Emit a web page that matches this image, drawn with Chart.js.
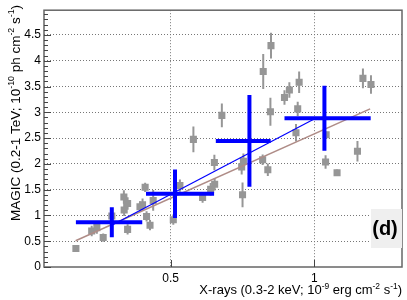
<!DOCTYPE html>
<html>
<head>
<meta charset="utf-8">
<script src="https://cdn.jsdelivr.net/npm/chart.js@4.4.1/dist/chart.umd.min.js"></script>
<style>
  html, body { margin: 0; padding: 0; background: #fff; }
  #wrap { width: 407px; height: 300px; position: relative; }
</style>
</head>
<body>
<div id="wrap"><canvas id="chart"></canvas></div>
<script>
// nightly fluxes: X-rays (x) vs MAGIC (y)
const xrayFlux = [0.170, 0.225, 0.243, 0.265, 0.295, 0.337, 0.350, 0.338, 0.350, 0.393,
                  0.411, 0.402, 0.416, 0.428, 0.439, 0.509, 0.532, 0.579, 0.611, 0.639,
                  0.653, 0.652, 0.678, 0.747, 0.753, 0.750, 0.820, 0.838, 0.822, 0.849,
                  0.847, 0.896, 0.913, 0.947, 0.942, 0.936, 1.041, 1.039, 1.079, 1.150,
                  1.169, 1.197];
const magicFlux = [0.358, 0.698, 0.764, 0.571, 0.990, 1.357, 1.231, 1.107, 0.730, 1.169,
                   1.546, 1.207, 0.980, 0.811, 1.291, 0.918, 1.578, 2.475, 1.348, 1.508,
                   1.603, 2.027, 2.941, 1.942, 2.049, 1.401, 2.080, 1.885, 3.790, 4.293,
                   3.011, 3.286, 3.431, 3.582, 3.067, 2.602, 2.564, 2.036, 1.829, 2.244,
                   3.658, 3.539];
const magicErr = [0.05, 0.10, 0.12, 0.08, 0.08, 0.13, 0.12, 0.12, 0.10, 0.10,
                  0.09, 0.12, 0.10, 0.10, 0.20, 0.10, 0.12, 0.25, 0.10, 0.12,
                  0.12, 0.15, 0.23, 0.15, 0.15, 0.24, 0.10, 0.12, 0.34, 0.25,
                  0.27, 0.14, 0.15, 0.21, 0.14, 0.17, 0.06, 0.13, 0.06, 0.20,
                  0.19, 0.18];

// binned averages (blue crosses)
const binX = [0.295, 0.515, 0.774, 1.035];
const binXLo = [0.170, 0.414, 0.657, 0.896];
const binXHi = [0.401, 0.651, 0.848, 1.196];
const binY = [0.867, 1.420, 2.445, 2.885];
const binYErr = [0.29, 0.47, 0.89, 0.63];

// linear fits
const fitBinX = [0.295, 1.006];
const fitBinY = [0.81, 2.89];
const fitAllX = [0.169, 1.194];
const fitAllY = [0.509, 3.067];

const xTicks = [0.5, 1];
const yTicks = [0, 0.5, 1, 1.5, 2, 2.5, 3, 3.5, 4, 4.5];
const yMinorStep = 0.1;

const FONT = "'Liberation Sans', Arial, sans-serif";
const GRAY = 'rgb(150,150,150)';

function isMajor(v) {
    return yTicks.some(m => Math.abs(m - v) < 1e-6);
}

// segments separated by null points so one dataset can hold many bars
const errSegs = [];
xrayFlux.forEach((x, i) => {
    errSegs.push({ x: x, y: magicFlux[i] - magicErr[i] });
    errSegs.push({ x: x, y: magicFlux[i] + magicErr[i] });
    errSegs.push({ x: x, y: null });
});
const crossSegs = [];
binX.forEach((x, i) => {
    crossSegs.push({ x: binXLo[i], y: binY[i] }, { x: binXHi[i], y: binY[i] }, { x: x, y: null });
    crossSegs.push({ x: x, y: binY[i] - binYErr[i] }, { x: x, y: binY[i] + binYErr[i] }, { x: x, y: null });
});

function drawRich(ctx, parts, size) {
    // parts: [text, isSup]; returns total width when ctx is null-ish
    let w = 0;
    parts.forEach(p => {
        ctx.font = (p[1] ? size * 0.65 : size) + 'px ' + FONT;
        w += ctx.measureText(p[0]).width;
    });
    return w;
}
function fillRich(ctx, parts, size, x, y) {
    parts.forEach(p => {
        ctx.font = (p[1] ? size * 0.65 : size) + 'px ' + FONT;
        ctx.fillText(p[0], x, p[1] ? y - size * 0.42 : y);
        x += ctx.measureText(p[0]).width;
    });
}

const xTitle = [['X-rays (0.3-2 keV; 10', 0], ['-9', 1], [' erg cm', 0], ['-2', 1], [' s', 0], ['-1', 1], [')', 0]];
const yTitle = [['MAGIC (0.2-1 TeV; 10', 0], ['-10', 1], [' ph cm', 0], ['-2', 1], [' s', 0], ['-1', 1], [')', 0]];

const decor = {
    id: 'decor',
    afterDraw(chart) {
        const ctx = chart.ctx;
        const a = chart.chartArea;
        const xs = chart.scales.x, ys = chart.scales.y;
        ctx.save();
        // frame
        ctx.strokeStyle = '#666';
        ctx.lineWidth = 1.5;
        ctx.strokeRect(a.left, a.top, a.right - a.left, a.bottom - a.top);
        // inward ticks
        ctx.strokeStyle = '#444';
        ctx.lineWidth = 1;
        ctx.beginPath();
        ys.ticks.forEach(t => {
            const py = Math.round(ys.getPixelForValue(t.value)) + 0.5;
            const len = isMajor(t.value) ? 7 : 4;
            ctx.moveTo(a.left, py);
            ctx.lineTo(a.left + len, py);
        });
        xs.ticks.forEach(t => {
            const px = Math.round(xs.getPixelForValue(t.value)) + 0.5;
            ctx.moveTo(px, a.bottom);
            ctx.lineTo(px, a.bottom - 7);
        });
        ctx.stroke();
        // axis titles
        ctx.fillStyle = '#000';
        ctx.textBaseline = 'alphabetic';
        ctx.textAlign = 'left';
        const xw = drawRich(ctx, xTitle, 13);
        fillRich(ctx, xTitle, 13, a.right - xw, 294);
        const yw = drawRich(ctx, yTitle, 13.5);
        ctx.translate(19.5, 5);
        ctx.rotate(-Math.PI / 2);
        fillRich(ctx, yTitle, 13.5, -yw, 0);
        ctx.restore();
        // panel tag
        ctx.save();
        ctx.fillStyle = '#efefef';
        ctx.fillRect(371, 209, a.right - 371, 39);
        ctx.fillStyle = '#000';
        ctx.font = 'bold 20px ' + FONT;
        ctx.textAlign = 'center';
        ctx.textBaseline = 'middle';
        ctx.fillText('(d)', 385, 229);
        ctx.restore();
    }
};

new Chart(document.getElementById('chart'), {
    type: 'scatter',
    data: {
        datasets: [
            {
                data: crossSegs, showLine: true, spanGaps: false, pointRadius: 0,
                borderColor: '#0000ff', borderWidth: 4, borderCapStyle: 'butt', order: 0
            },
            {
                data: fitBinX.map((x, i) => ({ x: x, y: fitBinY[i] })), showLine: true, pointRadius: 0,
                borderColor: '#0000ff', borderWidth: 1.2, order: 1
            },
            {
                data: fitAllX.map((x, i) => ({ x: x, y: fitAllY[i] })), showLine: true, pointRadius: 0,
                borderColor: 'rgb(175,140,135)', borderWidth: 1.5, order: 2
            },
            {
                data: xrayFlux.map((x, i) => ({ x: x, y: magicFlux[i] })),
                pointStyle: 'rect', pointRadius: 5, backgroundColor: GRAY, borderWidth: 0, order: 3
            },
            {
                data: errSegs, showLine: true, spanGaps: false, pointRadius: 0,
                borderColor: GRAY, borderWidth: 2, borderCapStyle: 'butt', order: 4
            }
        ]
    },
    options: {
        responsive: true,
        maintainAspectRatio: false,
        animation: false,
        events: [],
        layout: { padding: { left: 0, right: 5, top: 3, bottom: 0 } },
        plugins: { legend: { display: false }, tooltip: { enabled: false } },
        scales: {
            x: {
                type: 'linear', min: 0.059, max: 1.305,
                afterBuildTicks: s => { s.ticks = xTicks.map(v => ({ value: v })); },
                afterFit: s => { s.height = 33; },
                grid: { color: '#777', drawTicks: false },
                border: { display: false, dash: [1, 2] },
                ticks: {
                    padding: 4, color: '#000', maxRotation: 0,
                    font: { family: FONT, size: 12 },
                    callback: v => String(v)
                }
            },
            y: {
                type: 'linear', min: 0, max: 4.98,
                afterBuildTicks: s => {
                    const t = [];
                    for (let v = 0; v < 4.95; v += yMinorStep) t.push({ value: Math.round(v * 10) / 10 });
                    s.ticks = t;
                },
                afterFit: s => { s.width = 44; },
                grid: {
                    drawTicks: false,
                    color: c => (c.tick && c.tick.value > 0 && isMajor(c.tick.value)) ? '#777' : 'rgba(0,0,0,0)'
                },
                border: { display: false, dash: [1, 2] },
                ticks: {
                    padding: 3, color: '#000', autoSkip: false,
                    font: { family: FONT, size: 12 },
                    callback: v => isMajor(v) ? String(v) : ''
                }
            }
        }
    },
    plugins: [decor]
});
</script>
</body>
</html>
